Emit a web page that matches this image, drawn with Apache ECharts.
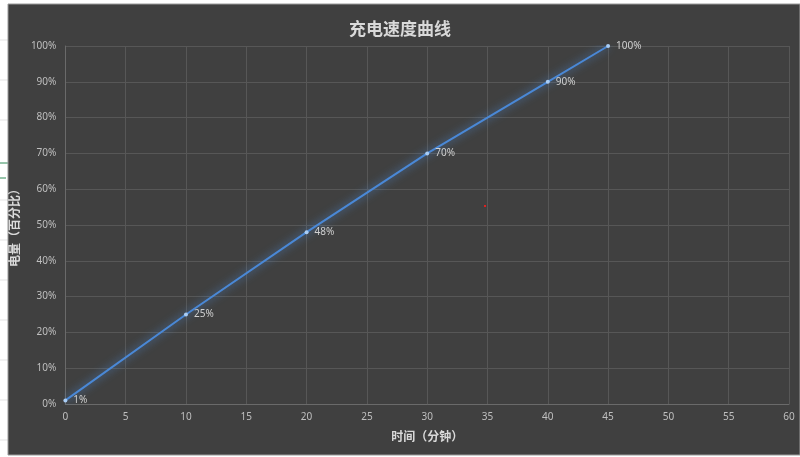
<!DOCTYPE html>
<html><head><meta charset="utf-8">
<script src="https://cdn.jsdelivr.net/npm/echarts@6/dist/echarts.min.js"></script>
<style>
html,body{margin:0;padding:0;background:#ffffff;width:800px;height:457px;overflow:hidden;}
#chart{position:absolute;left:0;top:0;width:800px;height:457px;}
</style></head>
<body>
<div id="chart"></div>
<script>
const minutes = [0, 10, 20, 30, 40, 45];
const charge = [1, 25, 48, 70, 90, 100];
const titleText = '充电速度曲线';
const xName = '时间（分钟）';
const yName = '电量（百分比）';

const chart = echarts.init(document.getElementById('chart'));
const pts = minutes.map((m, i) => [m, charge[i]]);
const cjk = '"Microsoft YaHei","Noto Sans CJK SC",sans-serif';

const sheetLines = [40, 80, 120, 200, 240, 280, 320, 360, 400, 440].map(y => (
  {type:'line', z:-11, shape:{x1:0,y1:y,x2:8,y2:y}, style:{stroke:'#e3e3e3'}}
));

chart.setOption({
  backgroundColor: '#ffffff',
  animation: false,
  graphic: [
    {type:'rect', z:-10, shape:{x:8,y:4,width:792,height:451}, style:{fill:'#404040', stroke:'#9a9a9a', lineWidth:1}},
    ...sheetLines,
    {type:'line', z:-11, shape:{x1:0,y1:163,x2:8,y2:163}, style:{stroke:'#2e8b57', lineWidth:1}},
    {type:'line', z:-11, shape:{x1:0,y1:178,x2:6,y2:178}, style:{stroke:'#2e8b57', lineWidth:1}},
    {type:'rect', z:10, shape:{x:484,y:205,width:2,height:2}, style:{fill:'#e02020'}}
  ],
  title: {
    text: titleText,
    left: 'center',
    top: 15,
    textStyle: {color:'#d9d9d9', fontSize:17, fontWeight:'bold', fontFamily:cjk}
  },
  grid: {left:62, right:11, top:46, bottom:53, containLabel:false},
  xAxis: {
    type:'value', min:0, max:60, interval:5,
    name:xName, nameLocation:'middle', nameGap:26,
    nameTextStyle:{color:'#d9d9d9', fontSize:12, fontWeight:'bold', fontFamily:cjk},
    axisLine:{show:true, lineStyle:{color:'#6a6a6a'}},
    axisTick:{show:false},
    axisLabel:{color:'#bfbfbf', fontSize:10, margin:8, fontFamily:'"Noto Sans",sans-serif'},
    splitLine:{show:true, lineStyle:{color:'#575757', width:1}}
  },
  yAxis: {
    type:'value', min:0, max:100, interval:10,
    name:yName, nameLocation:'middle', nameGap:34, nameRotate:90,
    nameTextStyle:{color:'#d9d9d9', fontSize:12, fontWeight:'bold', fontFamily:cjk},
    axisLine:{show:true, lineStyle:{color:'#6a6a6a'}},
    axisTick:{show:false},
    axisLabel:{color:'#bfbfbf', fontSize:10, margin:9, formatter:'{value}%', fontFamily:'"Noto Sans",sans-serif'},
    splitLine:{show:true, lineStyle:{color:'#575757', width:1}}
  },
  series: [{
    type:'line',
    data: pts,
    symbol:'circle',
    symbolSize:4,
    itemStyle:{color:'#a9cdf5', borderWidth:0},
    lineStyle:{color:'#4a88d6', width:2, shadowColor:'rgba(80,150,240,0.85)', shadowBlur:8},
    label:{
      show:true, position:'right', distance:6,
      color:'#d0d0d0', fontSize:10, fontFamily:'"Noto Sans",sans-serif',
      formatter: p => p.value[1] + '%'
    }
  }]
});
</script>
</body></html>
